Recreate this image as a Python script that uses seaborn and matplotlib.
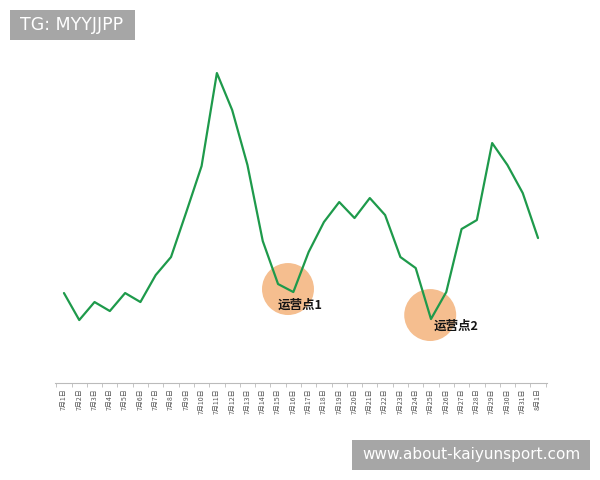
import matplotlib
matplotlib.use("Agg")
import matplotlib.pyplot as plt
import seaborn as sns
import pandas as pd
from matplotlib.patches import Rectangle

# daily values, 7月1日 .. 8月1日
dates = [f"7月{d}日" for d in range(1, 32)] + ["8月1日"]
values = [90, 63, 81, 72, 90, 81, 108, 126, 171, 217, 310, 273, 218, 142, 99, 91,
          131, 161, 181, 165, 185, 168, 126, 115, 64, 91, 154, 163, 240, 218, 190, 145]

# highlighted "运营点" markers
hl_labels = ["运营点1", "运营点2"]
hl_x = [14.65, 23.95]
hl_y = [94, 68]
hl_text_x = [14.0, 24.2]
hl_text_y = [78, 57]

sns.set_theme(style="white")
plt.rcParams["font.family"] = ["Noto Sans CJK SC", "DejaVu Sans"]

df = pd.DataFrame({"pos": range(len(dates)), "value": values})

fig = plt.figure(figsize=(6, 4.8), dpi=100)
ax = fig.add_axes([0.0913, 0.202, 0.8207, 0.6875])

ax.scatter(hl_x, hl_y, s=1400, color="#F5BE8F", edgecolor="none", zorder=1)
sns.lineplot(data=df, x="pos", y="value", ax=ax, color="#1E9A4B",
             linewidth=1.6, zorder=2)
for lab, x, y in zip(hl_labels, hl_text_x, hl_text_y):
    ax.text(x, y, lab, fontsize=9, fontweight="bold",
            color="#141414", va="center", ha="left", zorder=3)

ax.set_xlim(-0.6, len(dates) - 0.4)
ax.set_ylim(0, 330)
ax.set_xticks(range(len(dates)))
ax.set_xticklabels(dates, rotation=90, fontsize=5, color="#555555")
ax.set_xticks([i - 0.5 for i in range(len(dates) + 1)], minor=True)
ax.tick_params(axis="x", which="major", length=0, pad=4)
ax.tick_params(axis="x", which="minor", length=3, color="#bbbbbb",
               width=0.6, direction="out", bottom=True)
ax.set_yticks([])
ax.set_xlabel("")
ax.set_ylabel("")
for s in ["top", "right", "left"]:
    ax.spines[s].set_visible(False)
ax.spines["bottom"].set_color("#bbbbbb")
ax.spines["bottom"].set_linewidth(0.8)

# watermark boxes
fig.add_artist(Rectangle((10 / 600, 1 - 40 / 480), 125 / 600, 30 / 480,
                         transform=fig.transFigure, color="#A6A6A6", lw=0))
fig.text(72 / 600, 1 - 25 / 480, "TG: MYYJJPP", color="white", fontsize=12.5,
         ha="center", va="center", family=["DejaVu Sans"])
fig.add_artist(Rectangle((352 / 600, 1 - 470 / 480), 238 / 600, 30 / 480,
                         transform=fig.transFigure, color="#A6A6A6", lw=0))
fig.text(471 / 600, 1 - 455 / 480, "www.about-kaiyunsport.com", color="white",
         fontsize=11, ha="center", va="center", family=["DejaVu Sans"])

fig.savefig("out.png", dpi=100)
